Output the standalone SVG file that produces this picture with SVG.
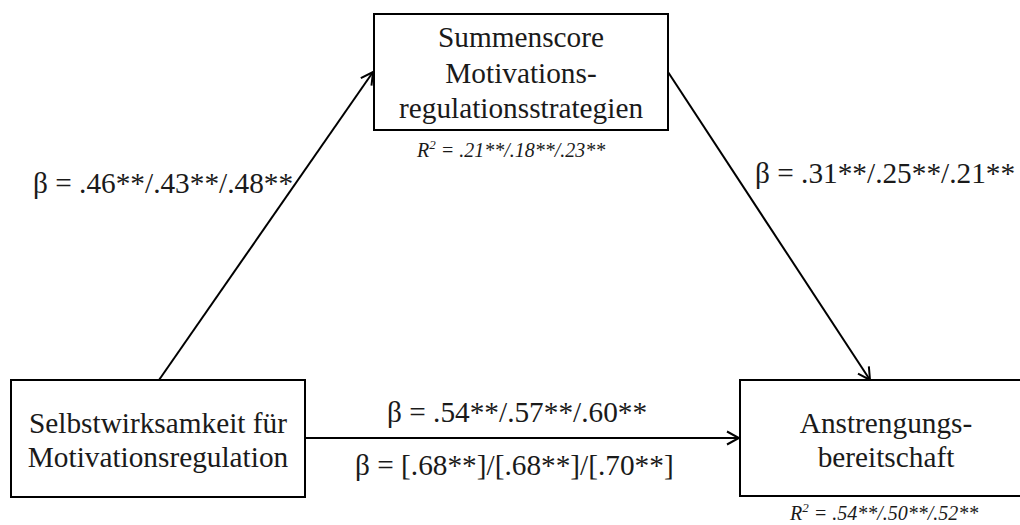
<svg xmlns="http://www.w3.org/2000/svg" width="1020" height="525" viewBox="0 0 1020 525">
  <style>
    .box { fill: #ffffff; stroke: #000000; stroke-width: 2; }
    .lbl { font-family: "Liberation Serif", "Times New Roman", serif; font-size: 29.3px; fill: #1a1a1a; }
    .node { text-anchor: middle; }
    .r2 { font-family: "Liberation Serif", "Times New Roman", serif; font-size: 20px; font-style: italic; fill: #1a1a1a; }
    .edge { stroke: #000000; stroke-width: 2; fill: none; }
  </style>
  <defs>
    <marker id="arrow" viewBox="-14 -8 16 16" markerWidth="16" markerHeight="16" refX="0" refY="0" orient="auto" markerUnits="userSpaceOnUse">
      <path d="M -12 -6.5 L 0 0 L -12 6.5" fill="none" stroke="#000000" stroke-width="2"/>
    </marker>
  </defs>

  <rect width="1020" height="525" fill="#ffffff"/>

  <!-- paths between the three variables -->
  <g id="connectors">
    <line class="edge" x1="159" y1="380" x2="373" y2="72" marker-end="url(#arrow)"/>
    <line class="edge" x1="668" y1="72" x2="870" y2="380" marker-end="url(#arrow)"/>
    <line class="edge" x1="305" y1="438" x2="739" y2="438" marker-end="url(#arrow)"/>
    <text class="lbl" x="33" y="193">β = .46**/.43**/.48**</text>
    <text class="lbl" x="755" y="183">β = .31**/.25**/.21**</text>
    <text class="lbl" x="387" y="422">β = .54**/.57**/.60**</text>
    <text class="lbl" x="355" y="475">β = [.68**]/[.68**]/[.70**]</text>
  </g>

  <!-- mediator -->
  <g id="mediator">
    <rect class="box" x="374" y="14" width="294" height="116"/>
    <text class="lbl node" x="521" y="47">Summenscore</text>
    <text class="lbl node" x="521" y="83">Motivations-</text>
    <text class="lbl node" x="521" y="118">regulationsstrategien</text>
    <text class="r2" x="417" y="157">R<tspan font-size="13" dy="-8">2</tspan><tspan dy="8"> = .21**/.18**/.23**</tspan></text>
  </g>

  <!-- predictor -->
  <g id="predictor">
    <rect class="box" x="11" y="380" width="294" height="117"/>
    <text class="lbl node" x="158" y="433">Selbstwirksamkeit für</text>
    <text class="lbl node" x="158" y="467">Motivationsregulation</text>
  </g>

  <!-- outcome -->
  <g id="outcome">
    <rect class="box" x="740" y="380" width="294" height="116"/>
    <text class="lbl node" x="886" y="433">Anstrengungs-</text>
    <text class="lbl node" x="886" y="467">bereitschaft</text>
    <text class="r2" x="790" y="520">R<tspan font-size="13" dy="-8">2</tspan><tspan dy="8"> = .54**/.50**/.52**</tspan></text>
  </g>
</svg>
